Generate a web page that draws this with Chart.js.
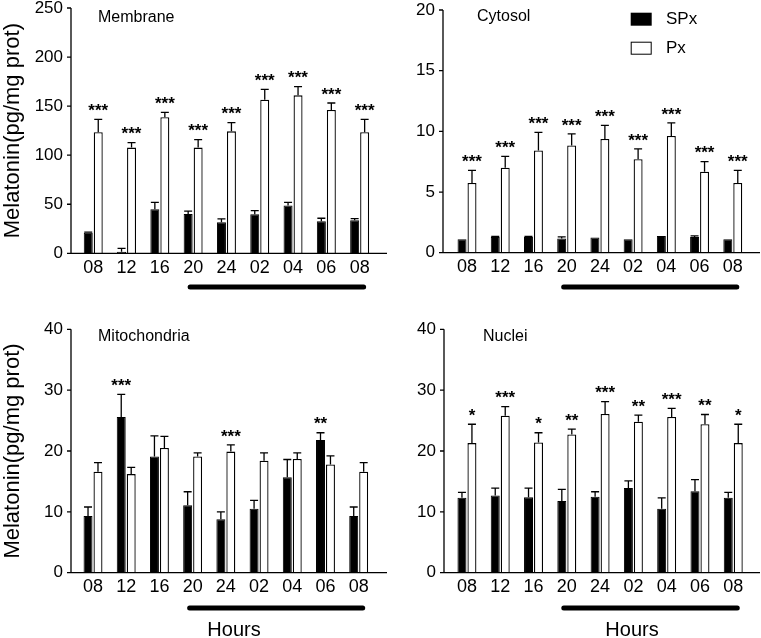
<!DOCTYPE html>
<html>
<head>
<meta charset="utf-8">
<script src="https://cdn.jsdelivr.net/npm/chart.js@4.4.0/dist/chart.umd.min.js"></script>
<style>
  body { margin: 0; background: #fff; width: 761px; height: 638px; position: relative; overflow: hidden; }
  canvas { position: absolute; }
</style>
</head>
<body>
<canvas id="membrane" width="390" height="300" style="left:0px;top:0px"></canvas>
<canvas id="cytosol" width="381" height="300" style="left:380px;top:0px"></canvas>
<canvas id="mito" width="390" height="338" style="left:0px;top:300px"></canvas>
<canvas id="nuclei" width="381" height="338" style="left:380px;top:300px"></canvas>
<script>
// clock hours (the 20 -> 08 stretch is the dark phase)
const hours = ['08', '12', '16', '20', '24', '02', '04', '06', '08'];
const nightFrom = 3, nightTo = 8;

// Membrane
const membraneTicks = [0, 50, 100, 150, 200, 250];
const membraneSPx = [21, 1.5, 44.8, 40, 31.6, 39.7, 48.6, 32.6, 33.6];
const membraneSPxSem = [0.5, 3.5, 7.2, 3, 3.4, 3.8, 3.4, 3.1, 1.7];
const membranePx = [123.3, 107.7, 138.6, 107.7, 124.3, 156.6, 161, 146, 123.3];
const membranePxSem = [13.2, 5.1, 5.1, 8.1, 8.9, 10.5, 8.8, 7.2, 13.2];
const membraneStars = ['***', '***', '***', '***', '***', '***', '***', '***', '***'];

// Cytosol
const cytosolTicks = [0, 5, 10, 15, 20];
const cytosolSPx = [1.1, 1.3, 1.3, 1.18, 1.26, 1.1, 1.37, 1.3, 1.1];
const cytosolSPxSem = [0, 0.05, 0.05, 0.12, 0, 0, 0, 0.08, 0];
const cytosolPx = [5.74, 7.0, 8.42, 8.83, 9.37, 7.7, 9.62, 6.67, 5.74];
const cytosolPxSem = [1.04, 0.93, 1.5, 0.96, 1.13, 0.85, 1.08, 0.83, 1.04];
const cytosolStars = ['***', '***', '***', '***', '***', '***', '***', '***', '***'];

// Mitochondria
const mitoTicks = [0, 10, 20, 30, 40];
const mitoSPx = [9.3, 25.6, 19.1, 11.1, 8.8, 10.5, 15.7, 21.8, 9.3];
const mitoSPxSem = [1.5, 3.7, 3.4, 2.2, 1.2, 1.4, 2.9, 1.2, 1.5];
const mitoPx = [16.6, 16.2, 20.5, 19.1, 19.9, 18.4, 18.7, 17.8, 16.6];
const mitoPxSem = [1.5, 1.1, 1.9, 0.6, 1.1, 1.3, 1.0, 1.4, 1.5];
const mitoStars = ['', '***', '', '', '***', '', '', '**', ''];

// Nuclei
const nucleiTicks = [0, 10, 20, 30, 40];
const nucleiSPx = [12.3, 12.7, 12.4, 11.8, 12.5, 13.9, 10.5, 13.4, 12.3];
const nucleiSPxSem = [0.9, 1.2, 1.5, 1.9, 0.8, 1.2, 1.8, 1.9, 0.9];
const nucleiPx = [21.3, 25.8, 21.4, 22.7, 26.1, 24.8, 25.6, 24.4, 21.3];
const nucleiPxSem = [3.1, 1.5, 1.6, 0.9, 2.0, 1.1, 1.4, 1.6, 3.1];
const nucleiStars = ['*', '***', '*', '**', '***', '**', '***', '**', '*'];

const FONT = "'Liberation Sans', Arial, Helvetica, sans-serif";
Chart.defaults.font.family = FONT;
Chart.defaults.color = '#000';

function makePanel(id, p) {
  const canvas = document.getElementById(id);
  const W = canvas.width, H = canvas.height;
  const ox = p.origin[0], oy = p.origin[1];
  const L = p.area[0] - ox, R = p.area[1] - ox, T = p.area[2] - oy, B = p.area[3] - oy;
  const ax = p.axisX - ox, axEnd = p.axisEnd - ox;
  const means = [p.spx, p.px], sems = [p.spxSem, p.pxSem];
  const ticks = p.ticks;

  const overlay = {
    id: 'overlay_' + id,
    afterDatasetsDraw(chart) {
      const ctx = chart.ctx, xs = chart.scales.x, ys = chart.scales.y;
      ctx.save();
      ctx.strokeStyle = '#000';
      ctx.fillStyle = '#000';

      // axes and y tick marks
      ctx.lineWidth = 1.3;
      ctx.beginPath();
      ctx.moveTo(ax, ys.getPixelForValue(ticks[ticks.length - 1]));
      ctx.lineTo(ax, B);
      ctx.lineTo(axEnd, B);
      ticks.forEach(t => {
        const y = ys.getPixelForValue(t);
        ctx.moveTo(ax - 4, y);
        ctx.lineTo(ax, y);
      });
      ctx.stroke();

      // error bars (upper only)
      const tops = [], topX = [];
      [0, 1].forEach(di => {
        const meta = chart.getDatasetMeta(di);
        meta.data.forEach((bar, i) => {
          const y = ys.getPixelForValue(means[di][i] + sems[di][i]);
          if (tops[i] === undefined || y < tops[i]) { tops[i] = y; topX[i] = bar.x; }
          if (sems[di][i] <= 0) return;
          ctx.lineWidth = 1.3;
          ctx.beginPath();
          ctx.moveTo(bar.x, bar.y);
          ctx.lineTo(bar.x, y);
          ctx.moveTo(bar.x - 4, y);
          ctx.lineTo(bar.x + 4, y);
          ctx.stroke();
        });
      });

      // significance stars
      ctx.font = 'bold 17px ' + FONT;
      ctx.textAlign = 'center';
      ctx.textBaseline = 'middle';
      p.stars.forEach((s, i) => {
        if (s) ctx.fillText(s, topX[i], tops[i] - 8);
      });

      // panel label
      ctx.font = '16px ' + FONT;
      ctx.textAlign = 'left';
      ctx.fillText(p.title, p.titlePos[0] - ox, p.titlePos[1] - oy);

      // dark-phase bar
      ctx.lineWidth = 5;
      ctx.lineCap = 'round';
      ctx.beginPath();
      ctx.moveTo(xs.getPixelForValue(nightFrom) - 3, p.nightY - oy);
      ctx.lineTo(xs.getPixelForValue(nightTo) + 4, p.nightY - oy);
      ctx.stroke();

      if (p.hoursPos) {
        ctx.font = '20px ' + FONT;
        ctx.textAlign = 'center';
        ctx.fillText('Hours', p.hoursPos[0] - ox, p.hoursPos[1] - oy);
      }

      if (p.legend) {
        const lx = 630.7 - ox, ly = 12.7 - oy;
        ctx.fillRect(lx, ly, 21, 13);
        ctx.lineWidth = 1;
        ctx.fillStyle = '#fff';
        ctx.fillRect(lx, ly + 29, 21, 13);
        ctx.strokeRect(lx + 0.5, ly + 29.5, 20, 12);
        ctx.fillStyle = '#000';
        ctx.font = '17px ' + FONT;
        ctx.textAlign = 'left';
        ctx.fillText(chart.data.datasets[0].label, 666 - ox, ly + 7);
        ctx.fillText(chart.data.datasets[1].label, 666 - ox, ly + 36);
      }
      ctx.restore();
    }
  };

  return new Chart(canvas, {
    type: 'bar',
    data: {
      labels: hours,
      datasets: [
        { label: 'SPx', data: p.spx, backgroundColor: '#000', borderColor: '#000', borderWidth: 1,
          barPercentage: 0.9, categoryPercentage: 0.6 },
        { label: 'Px', data: p.px, backgroundColor: '#fff', borderColor: '#000', borderWidth: 1.3,
          barPercentage: 0.9, categoryPercentage: 0.6 }
      ]
    },
    options: {
      responsive: false,
      animation: false,
      devicePixelRatio: 1,
      layout: { padding: { left: 0, top: T, right: W - R, bottom: 0 } },
      plugins: { legend: { display: false }, tooltip: { enabled: false } },
      scales: {
        x: {
          grid: { display: false, drawTicks: false },
          border: { display: false },
          ticks: { font: { size: 18 }, padding: 4, maxRotation: 0, autoSkip: false },
          afterFit(s) { s.height = H - B; s.paddingLeft = 0; s.paddingRight = 0; }
        },
        y: {
          min: ticks[0],
          max: ticks[ticks.length - 1],
          afterBuildTicks(s) { s.ticks = ticks.map(v => ({ value: v })); },
          grid: { display: false, drawTicks: false },
          border: { display: false },
          ticks: { font: { size: 17 }, padding: L - (ax - 8) },
          title: {
            display: !!p.yTitle,
            text: 'Melatonin(pg/mg prot)',
            font: { size: 22 },
            padding: 0
          },
          afterFit(s) { s.width = L; s.paddingTop = 0; s.paddingBottom = 0; }
        }
      }
    },
    plugins: [overlay]
  });
}

makePanel('membrane', {
  origin: [0, 0], area: [76.6, 376.3, 8, 253.3], axisX: 71, axisEnd: 387,
  ticks: membraneTicks, spx: membraneSPx, spxSem: membraneSPxSem, px: membranePx, pxSem: membranePxSem,
  stars: membraneStars, title: 'Membrane', titlePos: [98, 18], nightY: 287, yTitle: true
});
makePanel('cytosol', {
  origin: [380, 0], area: [450.4, 749.4, 10, 252.7], axisX: 443, axisEnd: 760,
  ticks: cytosolTicks, spx: cytosolSPx, spxSem: cytosolSPxSem, px: cytosolPx, pxSem: cytosolPxSem,
  stars: cytosolStars, title: 'Cytosol', titlePos: [477, 17], nightY: 287, legend: true
});
makePanel('mito', {
  origin: [0, 300], area: [76.4, 375.3, 329.3, 572.7], axisX: 71, axisEnd: 387,
  ticks: mitoTicks, spx: mitoSPx, spxSem: mitoSPxSem, px: mitoPx, pxSem: mitoPxSem,
  stars: mitoStars, title: 'Mitochondria', titlePos: [98, 337], nightY: 608, hoursPos: [234, 630], yTitle: true
});
makePanel('nuclei', {
  origin: [380, 300], area: [450.3, 749.9, 329.3, 572.7], axisX: 444, axisEnd: 760,
  ticks: nucleiTicks, spx: nucleiSPx, spxSem: nucleiSPxSem, px: nucleiPx, pxSem: nucleiPxSem,
  stars: nucleiStars, title: 'Nuclei', titlePos: [483, 337], nightY: 608, hoursPos: [632, 630]
});
</script>
</body>
</html>
